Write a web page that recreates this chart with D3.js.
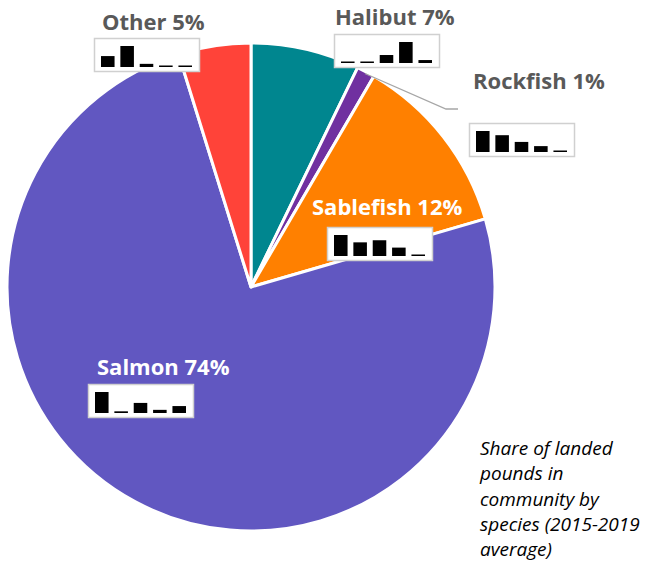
<!DOCTYPE html>
<html>
<head>
<meta charset="utf-8">
<script src="https://cdn.jsdelivr.net/npm/d3@7"></script>
<style>
  html, body { margin: 0; padding: 0; background: #fff; }
  svg { display: block; }
</style>
</head>
<body>
<div id="chart"></div>
<script>
// --- DATA ---
const species = ['Halibut', 'Rockfish', 'Sablefish', 'Salmon', 'Other'];
const shares = [7.2, 1.2, 12.1, 74.7, 4.8];          // slice sizes
const shareLabels = ['7%', '1%', '12%', '74%', '5%'];
const colors = ['#00868f', '#7030a0', '#ff8000', '#6157c1', '#ff4339'];
const labelColors = ['#595959', '#595959', '#ffffff', '#ffffff', '#595959'];
// yearly sparkline values (relative, 2015-2019)
const sparkYears = ['2015', '2016', '2017', '2018', '2019'];
const sparkHalibut = [4, 4, 38, 100, 14];
const sparkRockfish = [100, 80, 48, 28, 5];
const sparkSablefish = [100, 65, 75, 40, 5];
const sparkSalmon = [100, 8, 48, 15, 33];
const sparkOther = [52, 100, 15, 4, 4];
const sparkData = [sparkHalibut, sparkRockfish, sparkSablefish, sparkSalmon, sparkOther];
const caption = ['Share of landed', 'pounds in', 'community by', 'species (2015-2019', 'average)'];

// --- LAYOUT ---
const width = 647, height = 565;
const cx = 251, cy = 287, radius = 244;

// label anchor (text left x, baseline y) and sparkline box (x, y)
const labelPos = [
  {tx: 335, ty: 25, bx: 334, by: 34},
  {tx: 473, ty: 89, bx: 469, by: 123},
  {tx: 312, ty: 215, bx: 327, by: 227},
  {tx: 97, ty: 375, bx: 88, by: 384},
  {tx: 102, ty: 30, bx: 94, by: 38}
];
const boxW = 105, boxH = 33;

const svg = d3.select('#chart').append('svg')
  .attr('width', width)
  .attr('height', height);

// --- PIE ---
const pie = d3.pie().sort(null).value(d => d.value);
const arc = d3.arc().innerRadius(0).outerRadius(radius);
const slices = pie(species.map((s, i) => ({name: s, value: shares[i], i})));

const pieG = svg.append('g').attr('transform', `translate(${cx},${cy})`);
pieG.selectAll('path')
  .data(slices)
  .enter()
  .append('path')
  .attr('d', arc)
  .attr('fill', d => colors[d.data.i])
  .attr('stroke', '#fff')
  .attr('stroke-width', 3)
  .attr('stroke-linejoin', 'round');

// leader line for Rockfish
const rock = slices[1];
const mid = (rock.startAngle + rock.endAngle) / 2;
const p0 = [cx + Math.sin(mid) * (radius - 2), cy - Math.cos(mid) * (radius - 2)];
svg.append('polyline')
  .attr('points', `${p0[0]},${p0[1]} 446,109 458,109`)
  .attr('fill', 'none')
  .attr('stroke', '#a6a6a6')
  .attr('stroke-width', 1.3);

// --- LABELS + SPARKLINES ---
const x = d3.scaleBand().domain(sparkYears).range([7, boxW - 7]).paddingInner(0.3);
const y = d3.scaleLinear().domain([0, 100]).range([0, 21]);

species.forEach((s, i) => {
  const p = labelPos[i];
  svg.append('text')
    .attr('x', p.tx)
    .attr('y', p.ty)
    .attr('fill', labelColors[i])
    .style('font-family', '"Open Sans", sans-serif')
    .style('font-weight', 700)
    .style('font-size', '22px')
    .text(`${s} ${shareLabels[i]}`);

  const g = svg.append('g').attr('transform', `translate(${p.bx},${p.by})`);
  g.append('rect')
    .attr('x', 0.5).attr('y', 0.5)
    .attr('width', boxW).attr('height', boxH)
    .attr('fill', '#fff')
    .attr('stroke', '#d0d0d0')
    .attr('stroke-width', 1.5);
  const base = boxH - 4;
  g.selectAll('.bar')
    .data(sparkData[i])
    .enter()
    .append('rect')
    .attr('class', 'bar')
    .attr('x', (d, j) => x(sparkYears[j]))
    .attr('width', x.bandwidth())
    .attr('y', d => base - Math.max(1.5, y(d)))
    .attr('height', d => Math.max(1.5, y(d)))
    .attr('fill', '#000');
});

// --- CAPTION ---
svg.append('text')
  .attr('x', 480)
  .attr('y', 455)
  .style('font-family', '"Open Sans", sans-serif')
  .style('font-style', 'italic')
  .style('font-size', '19px')
  .attr('fill', '#000')
  .selectAll('tspan')
  .data(caption)
  .enter()
  .append('tspan')
  .attr('x', 480)
  .attr('dy', (d, i) => i === 0 ? 0 : 25.3)
  .text(d => d);
</script>
</body>
</html>
